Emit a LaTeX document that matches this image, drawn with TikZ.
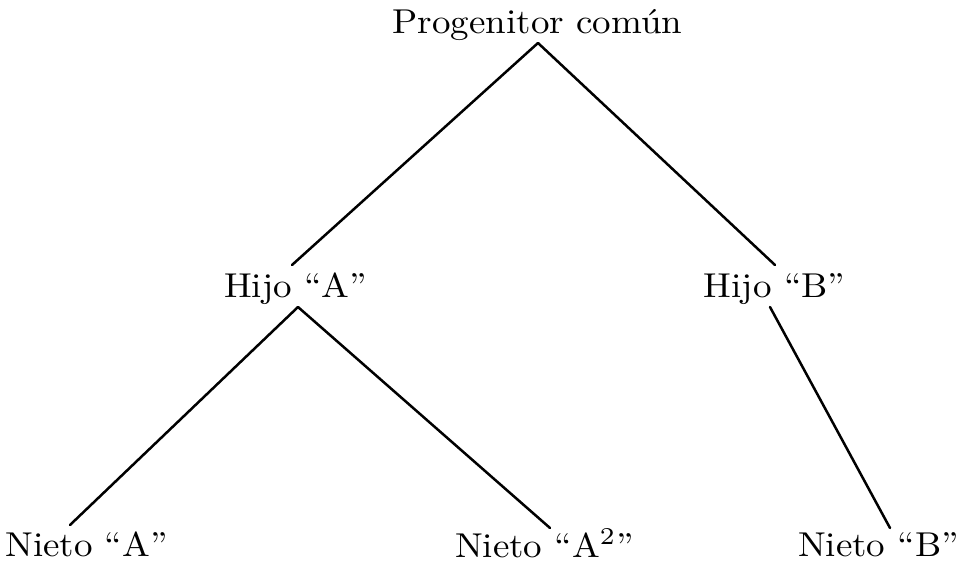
\documentclass[tikz,border=0pt]{standalone}
\usepackage{graphicx}
\newcommand\mylab[1]{\scalebox{3.7}[3.45]{\fontsize{10}{12}\selectfont #1}}
\begin{document}
\begin{tikzpicture}[x=1pt,y=-1pt,
  lbl/.style={inner sep=0pt, anchor=base},
  edge/.style={line width=2.5pt, line cap=round}]
\useasboundingbox (0,0) rectangle (961,564);
\node[lbl] (prog) at (537.5,34) {\mylab{Progenitor común}};
\node[lbl] (hA) at (295.5,297) {\mylab{Hijo ``A''}};
\node[lbl] (hB) at (774.5,297) {\mylab{Hijo ``B''}};
\node[lbl] (nA) at (86.5,556) {\mylab{Nieto ``A''}};
\node[lbl] (nA2) at (544.5,557) {\mylab{Nieto ``A\textsuperscript{2}''}};
\node[lbl] (nB) at (878.5,556) {\mylab{Nieto ``B''}};
\draw[edge] ([shift={(0.5,9)}]prog.base) -- ([shift={(-3.5,-32)}]hA.base);
\draw[edge] ([shift={(0.5,9)}]prog.base) -- ([shift={(0.5,-32)}]hB.base);
\draw[edge] ([shift={(2.5,10)}]hA.base) -- ([shift={(-16.5,-31)}]nA.base);
\draw[edge] ([shift={(2.5,10)}]hA.base) -- ([shift={(5.5,-29)}]nA2.base);
\draw[edge] ([shift={(-4.5,10)}]hB.base) -- ([shift={(11.5,-28)}]nB.base);
\end{tikzpicture}
\end{document}
